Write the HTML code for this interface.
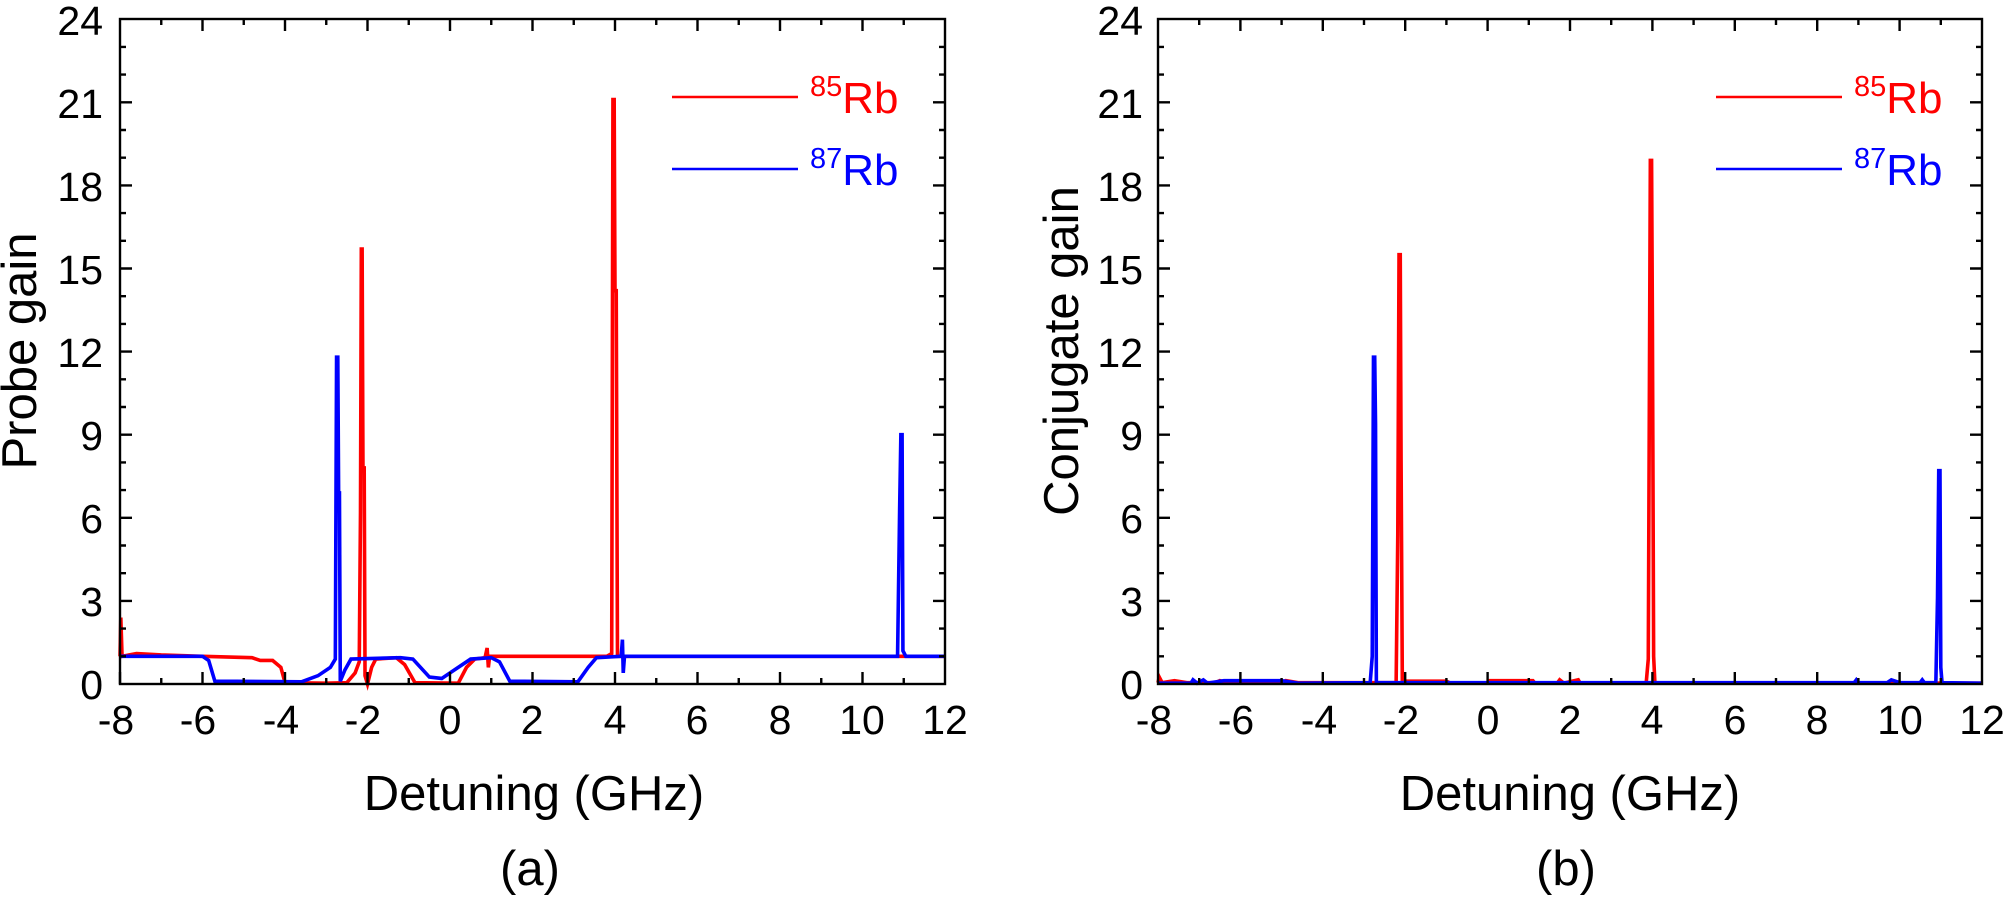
<!DOCTYPE html>
<html><head><meta charset="utf-8"><style>
html,body{margin:0;padding:0;background:#fff}
svg{display:block;font-family:"Liberation Sans",Arial,sans-serif}
.t{font-size:41px;fill:#000}
.ti{font-size:49px;fill:#000}
.d{fill:none;stroke-width:3.6;vector-effect:non-scaling-stroke;stroke-linejoin:miter}
</style></head><body>
<svg width="2008" height="903" viewBox="0 0 2008 903" xmlns="http://www.w3.org/2000/svg">

<!-- ===== Panel (a) ===== -->
<g>
<g transform="translate(450,684) scale(41.25,-27.7)">
<polyline class="d" stroke="#f00" points="-8,1 -7.98,2.4 -7.95,1 -7.6,1.1 -7,1.05 -6,1.0 -4.8,0.95 -4.6,0.85 -4.3,0.85 -4.1,0.6 -4.0,0.05 -3,0.03 -2.5,0.05 -2.3,0.4 -2.2,0.8 -2.17,6.2 -2.15,15.7 -2.13,15.7 -2.11,7.8 -2.08,7.8 -2.06,0.3 -2.0,0 -1.9,0.6 -1.8,0.9 -1.3,0.95 -1.1,0.7 -0.85,0.05 0.2,0.03 0.4,0.6 0.6,0.9 0.85,0.95 0.9,1.3 0.93,0.6 0.96,1 3.8,1 3.92,1.1 3.95,21.1 3.98,21.1 4.0,14.2 4.03,14.2 4.06,1 4.2,1 12,1"/>
<polyline class="d" stroke="#00f" points="-8,1 -6.0,1 -5.85,0.85 -5.7,0.1 -3.6,0.08 -3.2,0.3 -2.9,0.6 -2.78,0.9 -2.75,11.8 -2.72,11.8 -2.7,6.9 -2.68,6.9 -2.66,0.1 -2.55,0.5 -2.4,0.9 -1.2,0.95 -0.9,0.9 -0.5,0.25 -0.2,0.2 0.1,0.5 0.5,0.9 1.0,0.95 1.2,0.8 1.45,0.1 3.1,0.08 3.35,0.6 3.55,0.95 4.15,1 4.18,1.6 4.2,0.4 4.23,1 10.85,1 10.9,6.3 10.93,9.0 10.96,9.0 10.98,1.2 11.05,1 12,1"/>
</g>
<rect x="120" y="19" width="825" height="665" fill="none" stroke="#000" stroke-width="2.4"/>
<g stroke="#000" stroke-width="2.4">
<path d="M120,684v-12M161.25,684v-6M202.5,684v-12M243.75,684v-6M285,684v-12M326.25,684v-6M367.5,684v-12M408.75,684v-6M450,684v-12M491.25,684v-6M532.5,684v-12M573.75,684v-6M615,684v-12M656.25,684v-6M697.5,684v-12M738.75,684v-6M780,684v-12M821.25,684v-6M862.5,684v-12M903.75,684v-6"/>
<path d="M161.25,19v6M202.5,19v12M243.75,19v6M285,19v12M326.25,19v6M367.5,19v12M408.75,19v6M450,19v12M491.25,19v6M532.5,19v12M573.75,19v6M615,19v12M656.25,19v6M697.5,19v12M738.75,19v6M780,19v12M821.25,19v6M862.5,19v12M903.75,19v6"/>
<path d="M120,656.3h6M120,628.6h6M120,600.9h12M120,573.2h6M120,545.5h6M120,517.8h12M120,490.1h6M120,462.4h6M120,434.7h12M120,407h6M120,379.3h6M120,351.6h12M120,323.9h6M120,296.2h6M120,268.5h12M120,240.8h6M120,213.1h6M120,185.4h12M120,157.7h6M120,130h6M120,102.3h12M120,74.6h6M120,46.9h6"/>
<path d="M945,656.3h-6M945,628.6h-6M945,600.9h-12M945,573.2h-6M945,545.5h-6M945,517.8h-12M945,490.1h-6M945,462.4h-6M945,434.7h-12M945,407h-6M945,379.3h-6M945,351.6h-12M945,323.9h-6M945,296.2h-6M945,268.5h-12M945,240.8h-6M945,213.1h-6M945,185.4h-12M945,157.7h-6M945,130h-6M945,102.3h-12M945,74.6h-6M945,46.9h-6"/>
</g>
<g class="t" text-anchor="end">
<text x="103" y="699">0</text><text x="103" y="616">3</text><text x="103" y="533">6</text><text x="103" y="450">9</text>
<text x="103" y="367">12</text><text x="103" y="284">15</text><text x="103" y="201">18</text><text x="103" y="118">21</text><text x="103" y="35">24</text>
</g>
<g class="t" text-anchor="middle">
<text x="116" y="734">-8</text><text x="198" y="734">-6</text><text x="281" y="734">-4</text><text x="363" y="734">-2</text><text x="450" y="734">0</text>
<text x="532" y="734">2</text><text x="615" y="734">4</text><text x="697" y="734">6</text><text x="780" y="734">8</text><text x="862" y="734">10</text><text x="945" y="734">12</text>
</g>
<text class="ti" x="534" y="810" text-anchor="middle">Detuning (GHz)</text>
<text class="ti" x="530" y="885" text-anchor="middle">(a)</text>
<text class="ti" transform="translate(36,351) rotate(-90)" text-anchor="middle">Probe gain</text>
<line x1="672" y1="97" x2="798" y2="97" stroke="#f00" stroke-width="2.4"/>
<line x1="672" y1="169" x2="798" y2="169" stroke="#00f" stroke-width="2.4"/>
<text x="810" y="113" fill="#f00" font-size="44"><tspan font-size="29" dy="-17">85</tspan><tspan dy="17">Rb</tspan></text>
<text x="810" y="185" fill="#00f" font-size="44"><tspan font-size="29" dy="-17">87</tspan><tspan dy="17">Rb</tspan></text>
</g>

<!-- ===== Panel (b) ===== -->
<g>
<g transform="translate(1487.6,684) scale(41.2,-27.7)">
<polyline class="d" stroke="#f00" points="-8,0.05 -7.97,0.25 -7.9,0.05 -7.6,0.12 -7.3,0.05 -6.6,0.05 -6.5,0.12 -6.3,0.05 -5,0.05 -4.9,0.12 -4.6,0.05 -2.22,0.05 -2.18,5.4 -2.15,15.5 -2.12,15.5 -2.1,8.1 -2.07,0.1 -1,0.1 -0.9,0.03 0,0.05 0.05,0.12 1.1,0.12 1.15,0.03 1.7,0.05 1.75,0.15 1.85,0.03 2.2,0.15 2.25,0.03 3.85,0.05 3.9,0.9 3.95,18.9 3.98,18.9 4.0,13.1 4.03,1.0 4.06,0.05 12,0.03"/>
<polyline class="d" stroke="#00f" points="-8,0.03 -7.2,0.03 -7.15,0.15 -7.05,0.03 -6.9,0.15 -6.8,0.03 -6.4,0.12 -5,0.12 -4.6,0.03 -2.85,0.05 -2.8,1 -2.77,11.8 -2.74,11.8 -2.72,9.4 -2.7,0.05 8.9,0.05 8.95,0.15 9.0,0.05 9.7,0.05 9.8,0.15 10.0,0.05 10.5,0.05 10.55,0.15 10.6,0.05 10.88,0.05 10.92,3.1 10.95,7.7 10.98,7.7 11.0,0.6 11.03,0.05 12,0.03"/>
</g>
<rect x="1158" y="19" width="824" height="665" fill="none" stroke="#000" stroke-width="2.4"/>
<g stroke="#000" stroke-width="2.4">
<path d="M1199.2,684v-6M1240.4,684v-12M1281.6,684v-6M1322.8,684v-12M1364,684v-6M1405.2,684v-12M1446.4,684v-6M1487.6,684v-12M1528.8,684v-6M1570,684v-12M1611.2,684v-6M1652.4,684v-12M1693.6,684v-6M1734.8,684v-12M1776,684v-6M1817.2,684v-12M1858.4,684v-6M1899.6,684v-12M1940.8,684v-6"/>
<path d="M1199.2,19v6M1240.4,19v12M1281.6,19v6M1322.8,19v12M1364,19v6M1405.2,19v12M1446.4,19v6M1487.6,19v12M1528.8,19v6M1570,19v12M1611.2,19v6M1652.4,19v12M1693.6,19v6M1734.8,19v12M1776,19v6M1817.2,19v12M1858.4,19v6M1899.6,19v12M1940.8,19v6"/>
<path d="M1158,656.3h6M1158,628.6h6M1158,600.9h12M1158,573.2h6M1158,545.5h6M1158,517.8h12M1158,490.1h6M1158,462.4h6M1158,434.7h12M1158,407h6M1158,379.3h6M1158,351.6h12M1158,323.9h6M1158,296.2h6M1158,268.5h12M1158,240.8h6M1158,213.1h6M1158,185.4h12M1158,157.7h6M1158,130h6M1158,102.3h12M1158,74.6h6M1158,46.9h6"/>
<path d="M1982,656.3h-6M1982,628.6h-6M1982,600.9h-12M1982,573.2h-6M1982,545.5h-6M1982,517.8h-12M1982,490.1h-6M1982,462.4h-6M1982,434.7h-12M1982,407h-6M1982,379.3h-6M1982,351.6h-12M1982,323.9h-6M1982,296.2h-6M1982,268.5h-12M1982,240.8h-6M1982,213.1h-6M1982,185.4h-12M1982,157.7h-6M1982,130h-6M1982,102.3h-12M1982,74.6h-6M1982,46.9h-6"/>
</g>
<g class="t" text-anchor="end">
<text x="1143" y="699">0</text><text x="1143" y="616">3</text><text x="1143" y="533">6</text><text x="1143" y="450">9</text>
<text x="1143" y="367">12</text><text x="1143" y="284">15</text><text x="1143" y="201">18</text><text x="1143" y="118">21</text><text x="1143" y="35">24</text>
</g>
<g class="t" text-anchor="middle">
<text x="1154" y="734">-8</text><text x="1236" y="734">-6</text><text x="1319" y="734">-4</text><text x="1401" y="734">-2</text><text x="1488" y="734">0</text>
<text x="1570" y="734">2</text><text x="1652" y="734">4</text><text x="1735" y="734">6</text><text x="1817" y="734">8</text><text x="1900" y="734">10</text><text x="1982" y="734">12</text>
</g>
<text class="ti" x="1570" y="810" text-anchor="middle">Detuning (GHz)</text>
<text class="ti" x="1566" y="885" text-anchor="middle">(b)</text>
<text class="ti" transform="translate(1078,351) rotate(-90)" text-anchor="middle">Conjugate gain</text>
<line x1="1716" y1="97" x2="1842" y2="97" stroke="#f00" stroke-width="2.4"/>
<line x1="1716" y1="169" x2="1842" y2="169" stroke="#00f" stroke-width="2.4"/>
<text x="1854" y="113" fill="#f00" font-size="44"><tspan font-size="29" dy="-17">85</tspan><tspan dy="17">Rb</tspan></text>
<text x="1854" y="185" fill="#00f" font-size="44"><tspan font-size="29" dy="-17">87</tspan><tspan dy="17">Rb</tspan></text>
</g>
</svg>
</body></html>
